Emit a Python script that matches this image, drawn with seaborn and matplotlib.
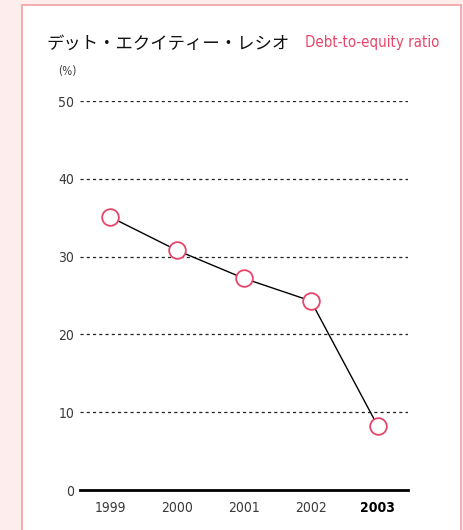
import numpy as np
import pandas as pd
import matplotlib
matplotlib.use("Agg")
import matplotlib.pyplot as plt
from matplotlib.patches import Rectangle
import seaborn as sns

years = ["1999", "2000", "2001", "2002", "2003"]
ratio = [35.1, 30.8, 27.2, 24.3, 8.2]
y_ticks = [0, 10, 20, 30, 40, 50]

title_jp = "デット・エクイティー・レシオ"
title_en = "Debt-to-equity ratio"
unit_label = "(%)"

red = "#e8456a"
narrow = dict(family=["DejaVu Sans"], stretch="condensed")

sns.set_style("white")
plt.rcParams["font.family"] = ["Noto Sans CJK JP", "DejaVu Sans"]

df = pd.DataFrame({"year": years, "ratio": ratio})
df["x"] = np.arange(len(years))

W, H = 463, 530
fig = plt.figure(figsize=(W / 100, H / 100), dpi=100)
fig.patch.set_facecolor("#fdeeed")

# white panel with pink border
fig.patches.append(Rectangle((22 / W, -0.05), (461 - 22) / W, 1.05 - 5 / H,
                             transform=fig.transFigure, facecolor="white",
                             edgecolor="#f19fa2", linewidth=1.2, zorder=-1))

ax = fig.add_axes([80 / W, 1 - 490 / H, (408 - 80) / W, (490 - 101) / H])
ax.set_zorder(2)
ax.set_facecolor("none")

sns.lineplot(data=df, x="x", y="ratio", ax=ax, color="black", linewidth=1.0,
             marker="o", markersize=12, markerfacecolor="white",
             markeredgecolor=red, markeredgewidth=1.3, zorder=3)

ax.set_xlim(-0.45, len(years) - 1 + 0.45)
ax.set_ylim(0, 50)
ax.set_yticks(y_ticks)
ax.set_yticklabels([str(t) for t in y_ticks], fontsize=10, color="#3a3a3a", **narrow)
ax.set_xticks(df["x"])
ax.set_xticklabels(years, fontsize=10, color="#3a3a3a", **narrow)
lbls = ax.get_xticklabels()
lbls[-1].set_fontweight("bold")
lbls[-1].set_color("black")
ax.tick_params(axis="both", length=0, pad=4)
ax.tick_params(axis="x", pad=8)

for t in y_ticks[1:]:
    ax.axhline(t, color="#222222", linewidth=0.9, linestyle=(0, (2.5, 2.5)), zorder=1)

for s in ["top", "right", "left"]:
    ax.spines[s].set_visible(False)
ax.spines["bottom"].set_linewidth(2)
ax.spines["bottom"].set_color("black")
ax.set_xlabel("")
ax.set_ylabel("")

fig.text(47 / W, 1 - 44 / H, title_jp, fontsize=12.5, color="#111111", va="center", ha="left")
fig.text(305 / W, 1 - 43 / H, title_en, fontsize=10.8, color=red, va="center", ha="left",
         **narrow)
fig.text(58 / W, 1 - 72 / H, unit_label, fontsize=8.5, color="#444444", va="center", ha="left",
         **narrow)

fig.savefig("out.png", dpi=100, facecolor=fig.get_facecolor())
